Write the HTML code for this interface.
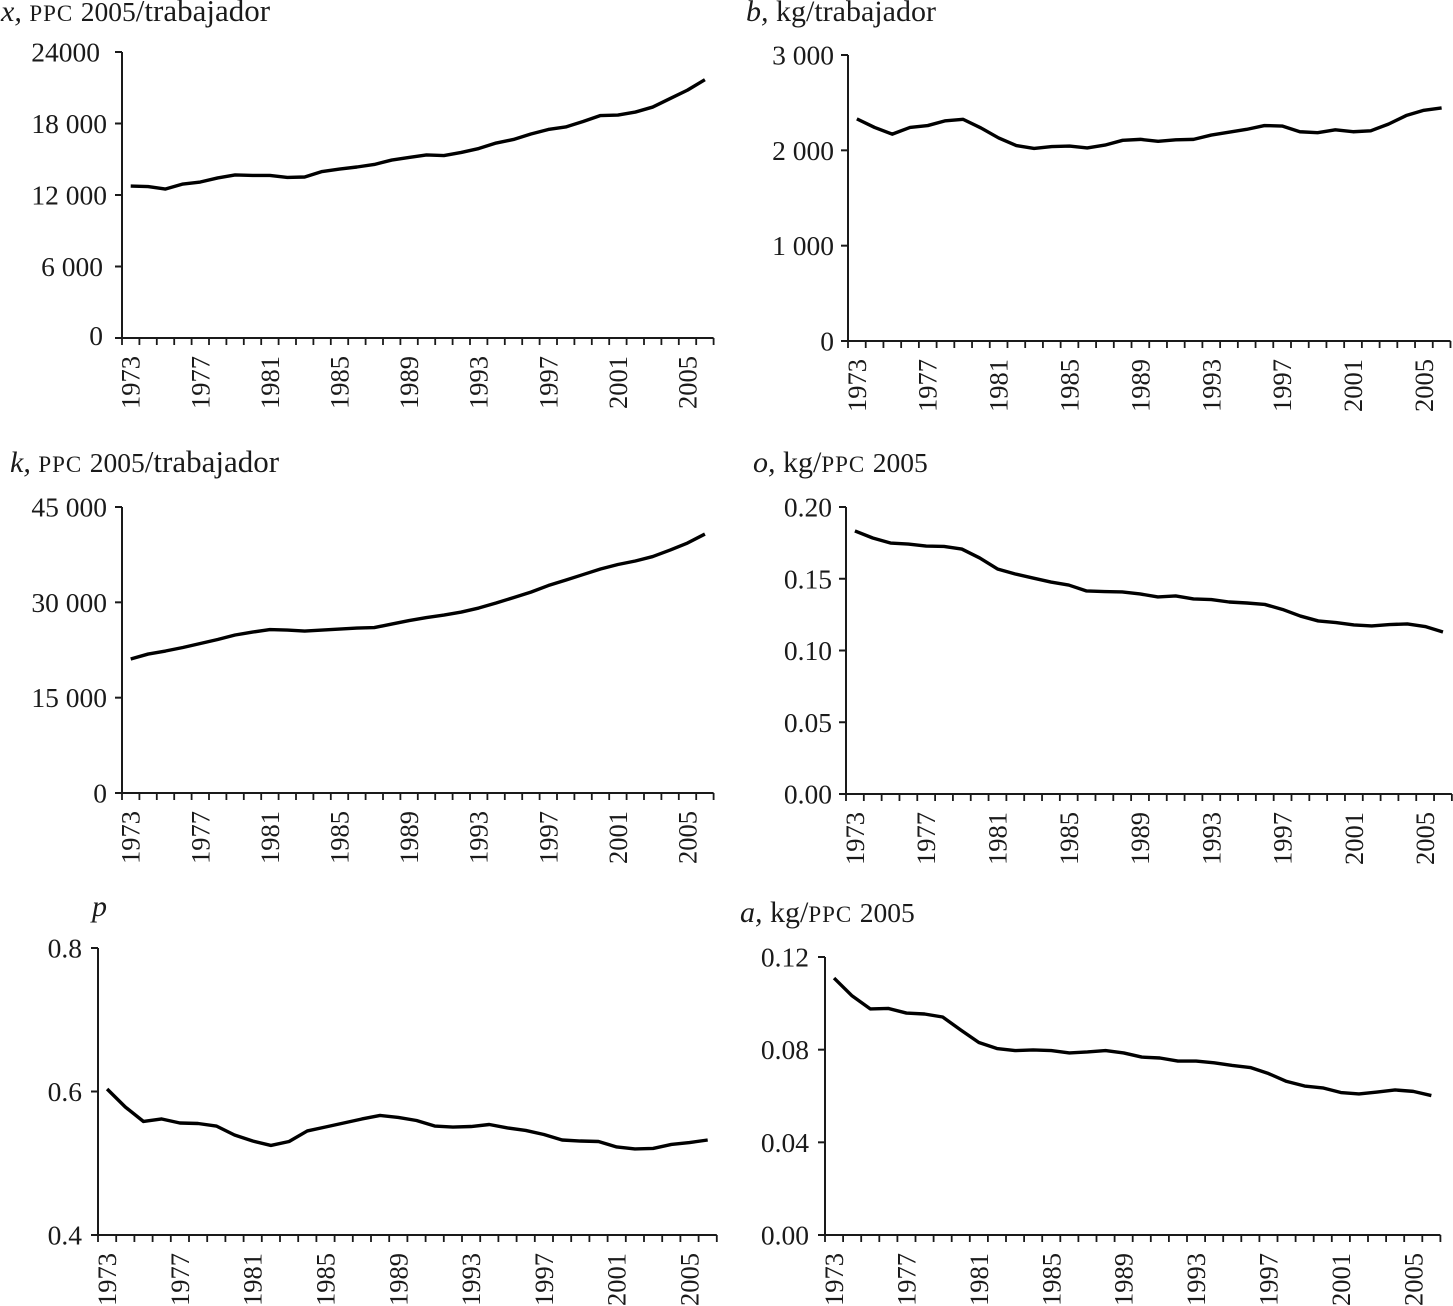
<!DOCTYPE html>
<html lang="es">
<head>
<meta charset="utf-8">
<title>Series 1973-2006</title>
<style>
html,body{margin:0;padding:0;background:#fff;}
svg{display:block;}
text{font-family:"Liberation Serif",serif;fill:#1a1a1a;}
.tk{font-size:27.5px;}
.yr{font-size:26.5px;}
.ttl{font-size:30px;}
.sc{font-size:23px;letter-spacing:1px;}
.num{font-size:27.5px;}
.lng{font-size:31px;}
</style>
</head>
<body>
<svg id="chart" width="1453" height="1306" viewBox="0 0 1453 1306" xmlns="http://www.w3.org/2000/svg">
<rect width="1453" height="1306" fill="#fff"/>
<text class="ttl" x="1" y="21"><tspan font-style="italic">x,</tspan> <tspan class="sc">PPC</tspan> <tspan class="num">2005</tspan><tspan class="lng">/trabajador</tspan></text>
<text class="ttl" x="746" y="21"><tspan font-style="italic">b,</tspan> kg/trabajador</text>
<text class="ttl" x="10" y="472"><tspan font-style="italic">k,</tspan> <tspan class="sc">PPC</tspan> <tspan class="num">2005</tspan><tspan class="lng">/trabajador</tspan></text>
<text class="ttl" x="753" y="472"><tspan font-style="italic">o,</tspan> kg/<tspan class="sc">PPC</tspan> <tspan class="num">2005</tspan></text>
<text class="ttl" x="92" y="916" font-style="italic">p</text>
<text class="ttl" x="740" y="922"><tspan font-style="italic">a,</tspan> kg/<tspan class="sc">PPC</tspan> <tspan class="num">2005</tspan></text>
</svg>
<script>
// Categories
const years = [1973,1974,1975,1976,1977,1978,1979,1980,1981,1982,1983,1984,1985,1986,1987,1988,1989,1990,1991,1992,1993,1994,1995,1996,1997,1998,1999,2000,2001,2002,2003,2004,2005,2006];
const yearLabels = [1973,1977,1981,1985,1989,1993,1997,2001,2005];

// Series values
const seriesX = [12750,12710,12500,12920,13090,13430,13680,13640,13640,13470,13510,13970,14180,14350,14560,14930,15150,15360,15310,15570,15900,16360,16660,17120,17500,17710,18170,18670,18710,18960,19380,20090,20800,21680];
const seriesB = [2330,2240,2170,2240,2260,2310,2325,2235,2130,2050,2020,2040,2045,2025,2055,2105,2115,2095,2110,2115,2160,2190,2220,2260,2255,2195,2185,2215,2195,2205,2275,2365,2420,2445];
const seriesK = [21080,21860,22340,22890,23520,24150,24860,25320,25720,25640,25480,25640,25800,25950,26030,26580,27130,27610,28000,28470,29100,29890,30750,31610,32640,33500,34370,35240,35950,36500,37200,38220,39330,40740];
const seriesO = [0.1833,0.1784,0.1749,0.1742,0.1728,0.1725,0.1707,0.1645,0.1568,0.1533,0.1505,0.1477,0.1456,0.1415,0.1411,0.1408,0.1394,0.1373,0.1380,0.1359,0.1355,0.1338,0.1331,0.1321,0.1286,0.1240,0.1206,0.1195,0.1178,0.1171,0.1181,0.1185,0.1167,0.1129];
const seriesP = [0.6035,0.5784,0.5582,0.5617,0.5561,0.5554,0.5519,0.5394,0.5310,0.5248,0.5303,0.5450,0.5505,0.5561,0.5617,0.5666,0.5638,0.5596,0.5519,0.5505,0.5512,0.5540,0.5492,0.5457,0.5401,0.5324,0.5310,0.5303,0.5227,0.5199,0.5206,0.5262,0.5289,0.5324];
const seriesA = [0.1109,0.1032,0.0976,0.0978,0.0958,0.0954,0.0941,0.0885,0.0831,0.0805,0.0796,0.0799,0.0796,0.0786,0.0790,0.0796,0.0786,0.0768,0.0764,0.0751,0.0751,0.0743,0.0732,0.0723,0.0697,0.0663,0.0643,0.0635,0.0615,0.0609,0.0617,0.0626,0.0620,0.0602];

// Tick values and printed tick labels
const ticksX = [0,6000,12000,18000,24000];
const tickLabelsX = ["0","6 000","12 000","18 000","24000"];
const ticksB = [0,1000,2000,3000];
const tickLabelsB = ["0","1 000","2 000","3 000"];
const ticksK = [0,15000,30000,45000];
const tickLabelsK = ["0","15 000","30 000","45 000"];
const ticksO = [0,0.05,0.10,0.15,0.20];
const tickLabelsO = ["0.00","0.05","0.10","0.15","0.20"];
const ticksP = [0.4,0.6,0.8];
const tickLabelsP = ["0.4","0.6","0.8"];
const ticksA = [0,0.04,0.08,0.12];
const tickLabelsA = ["0.00","0.04","0.08","0.12"];

const NS = 'http://www.w3.org/2000/svg';
const svg = document.getElementById('chart');

function make(tag, attrs, parent, txt) {
  const el = document.createElementNS(NS, tag);
  for (const k in attrs) el.setAttribute(k, attrs[k]);
  if (txt !== undefined) el.textContent = txt;
  parent.appendChild(el);
  return el;
}

function drawPanel(id, layout, values, ticks, tickLabels) {
  const g = make('g', {}, svg);
  
  

  const lo = ticks[0], hi = ticks[ticks.length - 1];
  const xScale = function (i) { return layout.left + layout.step * i; };
  const yScale = function (v) { return layout.bottom - (v - lo) / (hi - lo) * (layout.bottom - layout.top); };
  const right = xScale(years.length);

  const yAxis = make('line', {x1: layout.left, x2: layout.left, y1: layout.top, y2: layout.bottom, stroke: '#1a1a1a', 'stroke-width': 2}, g);
  
  

  const xAxis = make('line', {x1: layout.left - 7, x2: right, y1: layout.bottom, y2: layout.bottom, stroke: '#1a1a1a', 'stroke-width': 2}, g);
  
  

  ticks.forEach(function (t, i) {
    const y = yScale(t);
    const tick = make('line', {x1: layout.left - 7, x2: layout.left, y1: y, y2: y, stroke: '#1a1a1a', 'stroke-width': 2}, g);
    
    
    const dx = layout.nudgeX ? layout.nudgeX[i] : 0;
    const dy = layout.nudgeY ? layout.nudgeY[i] : 0;
    const label = make('text', {class: 'tk', x: layout.left - layout.labelGap + dx, y: y + 9.5 + dy, 'text-anchor': 'end'}, g, tickLabels[i]);
    
    
  });

  for (let i = 0; i <= years.length; i++) {
    const tick = make('line', {x1: xScale(i), x2: xScale(i), y1: layout.bottom, y2: layout.bottom + 7, stroke: '#1a1a1a', 'stroke-width': 1.8}, g);
    
    
  }

  yearLabels.forEach(function (yr) {
    const cx = xScale(years.indexOf(yr)) + layout.step / 2;
    const ly = layout.bottom + 18;
    const label = make('text', {class: 'yr', x: cx + 9, y: ly, 'text-anchor': 'end', transform: 'rotate(-90 ' + (cx + 9) + ' ' + ly + ')'}, g, String(yr));
    
    
  });

  const pts = values.map(function (v, i) {
    return xScale(i) + layout.step / 2 + ',' + yScale(v).toFixed(2);
  }).join(' ');
  const line = make('polyline', {points: pts, fill: 'none', stroke: '#000', 'stroke-width': 3.4, 'stroke-linejoin': 'round'}, g);
  
  
}

drawPanel('x', {left: 122, step: 17.4, top: 52, bottom: 338, labelGap: 15, nudgeX: [-4, -4, 0, 0, -7], nudgeY: [-2.5, 0, 0, 0, 0]}, seriesX, ticksX, tickLabelsX);
drawPanel('b', {left: 848, step: 17.72, top: 55, bottom: 341, labelGap: 14}, seriesB, ticksB, tickLabelsB);
drawPanel('k', {left: 122, step: 17.4, top: 507, bottom: 793, labelGap: 15}, seriesK, ticksK, tickLabelsK);
drawPanel('o', {left: 846, step: 17.82, top: 507, bottom: 794, labelGap: 14}, seriesO, ticksO, tickLabelsO);
drawPanel('p', {left: 98, step: 18.2, top: 948, bottom: 1235, labelGap: 16}, seriesP, ticksP, tickLabelsP);
drawPanel('a', {left: 825, step: 18.1, top: 957, bottom: 1235, labelGap: 16}, seriesA, ticksA, tickLabelsA);
</script>
</body>
</html>
